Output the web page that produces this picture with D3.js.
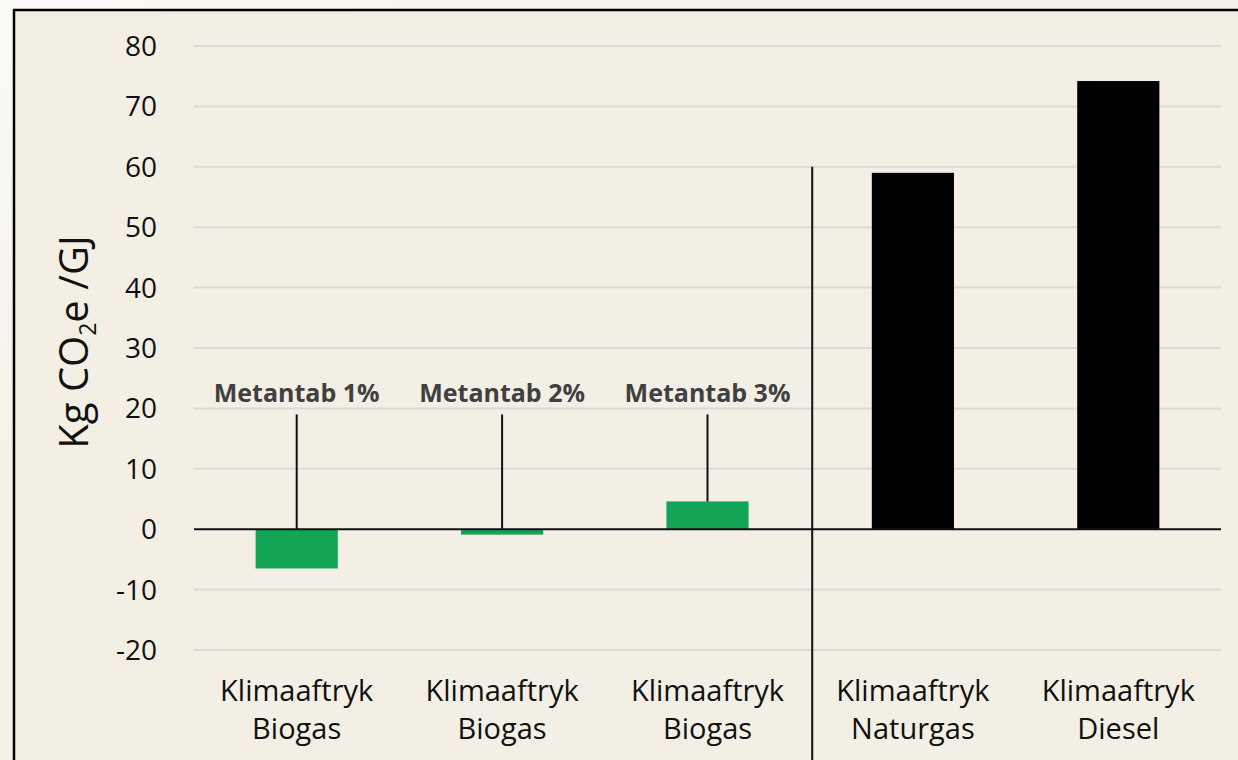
<!DOCTYPE html>
<html>
<head>
<meta charset="utf-8">
<script src="https://cdn.jsdelivr.net/npm/d3@7"></script>
<style>
    html, body { margin: 0; padding: 0; background: #f6f3eb; }
    svg { display: block; font-family: "Open Sans", sans-serif; }
    .grid line { stroke: #dcdad6; stroke-width: 2; }
    .tick-label { font-size: 28px; fill: #111; }
    .cat-label { font-size: 29px; fill: #111; }
    .note { font-size: 25px; font-weight: bold; fill: #404040; }
</style>
</head>
<body>
<div id="chart"></div>
<script>
// DATA
const categories = ["Biogas 1%", "Biogas 2%", "Biogas 3%", "Naturgas", "Diesel"];
const labelLine1 = ["Klimaaftryk", "Klimaaftryk", "Klimaaftryk", "Klimaaftryk", "Klimaaftryk"];
const labelLine2 = ["Biogas", "Biogas", "Biogas", "Naturgas", "Diesel"];
const values = [-6.5, -0.9, 4.6, 59, 74.2];
const colors = ["#14a456", "#14a456", "#14a456", "#000000", "#000000"];
const notes = ["Metantab 1%", "Metantab 2%", "Metantab 3%", null, null];
const noteTop = 19;
const dividerTop = 60;
const yTicks = [-20, -10, 0, 10, 20, 30, 40, 50, 60, 70, 80];

// CHART SETUP
const width = 1238, height = 760;
const margin = {top: 46, right: 17, bottom: 110, left: 194};

const svg = d3.select("#chart").append("svg")
    .attr("width", width)
    .attr("height", height);

// light corner glow outside the frame
const grad = svg.append("defs").append("radialGradient")
    .attr("id", "glow").attr("cx", "0").attr("cy", "0").attr("r", "0.6");
grad.append("stop").attr("offset", "0").attr("stop-color", "#fbfaf6");
grad.append("stop").attr("offset", "1").attr("stop-color", "#f4f1e8");
svg.append("rect").attr("width", width).attr("height", height).attr("fill", "url(#glow)");

// framed panel
svg.append("rect")
    .attr("x", 14).attr("y", 10)
    .attr("width", width + 20).attr("height", height + 20)
    .attr("fill", "#f3efe5")
    .attr("stroke", "#000")
    .attr("stroke-width", 2.5);

const x = d3.scaleBand()
    .domain(categories)
    .range([margin.left, width - margin.right])
    .paddingInner(0.6)
    .paddingOuter(0.3);

const y = d3.scaleLinear()
    .domain([-20, 80])
    .range([650, margin.top]);

// gridlines
svg.append("g").classed("grid", true)
    .selectAll("line")
    .data(yTicks.filter(d => d !== 0))
    .join("line")
    .attr("x1", margin.left)
    .attr("x2", width - margin.right)
    .attr("y1", d => y(d))
    .attr("y2", d => y(d));

// y tick labels
svg.append("g")
    .selectAll("text")
    .data(yTicks)
    .join("text")
    .classed("tick-label", true)
    .attr("x", 157)
    .attr("y", d => y(d))
    .attr("dy", "0.36em")
    .attr("text-anchor", "end")
    .text(d => d);

// y title
const title = svg.append("text")
    .attr("transform", `translate(88, ${y(30) - 6}) rotate(-90)`)
    .attr("text-anchor", "middle")
    .attr("font-size", 40)
    .attr("fill", "#111");
title.append("tspan").text("Kg CO");
title.append("tspan").attr("font-size", 23).attr("dy", 8).text("2");
title.append("tspan").attr("dy", -8).text("e /GJ");

// bars
svg.append("g")
    .selectAll("rect")
    .data(categories)
    .join("rect")
    .attr("x", d => x(d))
    .attr("width", x.bandwidth())
    .attr("y", (d, i) => y(Math.max(0, values[i])))
    .attr("height", (d, i) => Math.abs(y(values[i]) - y(0)))
    .attr("fill", (d, i) => colors[i]);

// zero line
svg.append("line")
    .attr("x1", margin.left)
    .attr("x2", width - margin.right)
    .attr("y1", y(0))
    .attr("y2", y(0))
    .attr("stroke", "#111")
    .attr("stroke-width", 2);

// divider between biogas and fossil fuels
const divX = (x(categories[2]) + x.bandwidth() + x(categories[3])) / 2 + 2;
svg.append("line")
    .attr("x1", divX).attr("x2", divX)
    .attr("y1", y(dividerTop)).attr("y2", height)
    .attr("stroke", "#111")
    .attr("stroke-width", 2);

// metantab callouts
const noteData = categories.map((c, i) => ({c, i})).filter(d => notes[d.i]);

svg.append("g")
    .selectAll("line")
    .data(noteData)
    .join("line")
    .attr("x1", d => x(d.c) + x.bandwidth() / 2)
    .attr("x2", d => x(d.c) + x.bandwidth() / 2)
    .attr("y1", y(noteTop))
    .attr("y2", d => y(Math.max(0, values[d.i])))
    .attr("stroke", "#111")
    .attr("stroke-width", 2);

svg.append("g")
    .selectAll("text")
    .data(noteData)
    .join("text")
    .classed("note", true)
    .attr("x", d => x(d.c) + x.bandwidth() / 2)
    .attr("y", y(noteTop) - 12)
    .attr("text-anchor", "middle")
    .text(d => notes[d.i]);

// category labels
const cats = svg.append("g")
    .selectAll("text")
    .data(categories)
    .join("text")
    .classed("cat-label", true)
    .attr("text-anchor", "middle")
    .attr("x", d => x(d) + x.bandwidth() / 2);

cats.append("tspan")
    .attr("x", d => x(d) + x.bandwidth() / 2)
    .attr("y", y(-20) + 51)
    .text((d, i) => labelLine1[i]);

cats.append("tspan")
    .attr("x", d => x(d) + x.bandwidth() / 2)
    .attr("y", y(-20) + 89)
    .text((d, i) => labelLine2[i]);
</script>
</body>
</html>
